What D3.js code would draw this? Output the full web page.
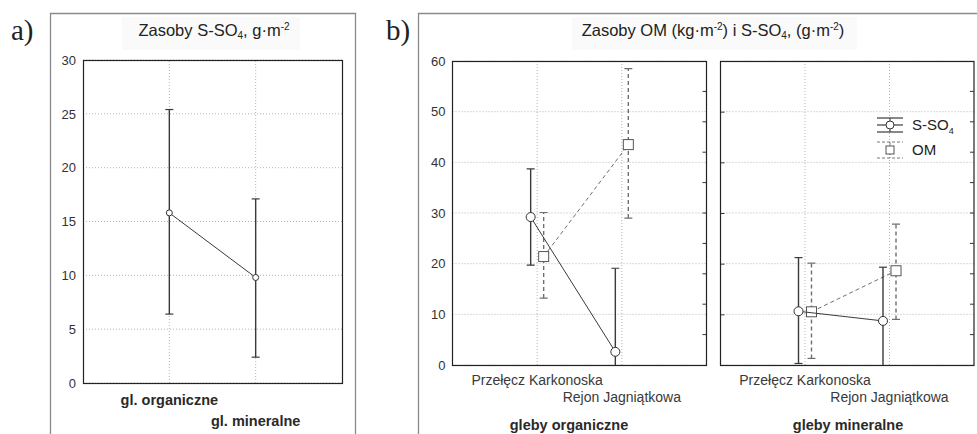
<!DOCTYPE html>
<html>
<head>
<meta charset="utf-8">
<script src="https://cdn.jsdelivr.net/npm/d3@7"></script>
<style>
  body { margin: 0; background: #fff; }
  svg { display: block; font-family: Arial, "Liberation Sans", sans-serif; }
</style>
</head>
<body>
<svg id="chart" width="977" height="434"></svg>
<script>
// panel a: S-SO4 stock by soil type (mean and CI)
const aCategories = ['gl. organiczne', 'gl. mineralne'];
const aMean = [15.8, 9.8];
const aLow = [6.4, 2.4];
const aHigh = [25.4, 17.1];
const aTicks = [0, 5, 10, 15, 20, 25, 30];

// panel b: two soil groups, two sites, two series
const bGroups = ['gleby organiczne', 'gleby mineralne'];
const bSites = ['Przełęcz Karkonoska', 'Rejon Jagniątkowa'];
const bSeries = ['S-SO4', 'OM'];
const sso4Mean = [[29.2, 2.6], [10.6, 8.7]];
const sso4Low = [[19.7, -13.9], [0.3, -1.9]];
const sso4High = [[38.7, 19.1], [21.2, 19.3]];
const omMean = [[21.4, 43.5], [10.5, 18.6]];
const omLow = [[13.2, 29.0], [1.3, 9.0]];
const omHigh = [[30.1, 58.5], [20.1, 27.8]];
const bTicks = [0, 10, 20, 30, 40, 50, 60];

const svg = d3.select('#chart');
const font = 'Arial, "Liberation Sans", sans-serif';

// outer frames
svg.append('path')
  .attr('d', 'M50.5,440 V13.5 H355.5 V440')
  .attr('fill', 'none').attr('stroke', '#8a8a8a').attr('stroke-width', 1.3);
svg.append('path')
  .attr('d', 'M418.5,440 V13.5 H980')
  .attr('fill', 'none').attr('stroke', '#8a8a8a').attr('stroke-width', 1.3);

// panel letters
svg.append('text').attr('x', 11).attr('y', 40).text('a)')
  .attr('font-family', '"Liberation Serif", "Times New Roman", serif').attr('font-size', 29).attr('fill', '#222');
svg.append('text').attr('x', 386).attr('y', 40).text('b)')
  .attr('font-family', '"Liberation Serif", "Times New Roman", serif').attr('font-size', 29).attr('fill', '#222');

// titles with faint background
function title(cx, parts) {
  const t = svg.append('text').attr('x', cx).attr('y', 36)
    .attr('text-anchor', 'middle').attr('font-size', 16.5).attr('fill', '#222');
  parts.forEach(p => {
    const s = t.append('tspan').text(p.t);
    if (p.sub) s.attr('font-size', 10).attr('dy', 3);
    if (p.sup) s.attr('font-size', 10).attr('dy', -6);
    if (p.back) s.attr('dy', p.back);
  });
  return t;
}
svg.append('rect').attr('x', 122).attr('y', 17).attr('width', 178).attr('height', 33).attr('fill', '#fafafa');
svg.append('rect').attr('x', 572).attr('y', 17).attr('width', 285).attr('height', 33).attr('fill', '#fafafa');
title(214, [
  { t: 'Zasoby S-SO' }, { t: '4', sub: true }, { t: ', g·m', back: -3 }, { t: '-2', sup: true }
]);
title(713, [
  { t: 'Zasoby OM (kg·m' }, { t: '-2', sup: true }, { t: ') i S-SO', back: 6 }, { t: '4', sub: true },
  { t: ', (g·m', back: -3 }, { t: '-2', sup: true }, { t: ')', back: 6 }
]);

// grid lines of one plot
function grid(g, y, r0, r1, yTicks, xs) {
  g.selectAll('.hg').data(yTicks).join('line')
    .attr('x1', r0).attr('x2', r1)
    .attr('y1', d => y(d)).attr('y2', d => y(d))
    .attr('stroke', '#b5b5b5').attr('stroke-dasharray', '1,2');
  g.selectAll('.vg').data(xs).join('line')
    .attr('x1', d => d).attr('x2', d => d)
    .attr('y1', y.range()[0]).attr('y2', y.range()[1])
    .attr('stroke', '#b5b5b5').attr('stroke-dasharray', '1,2');
}

function errorBars(g, xs, meanY, lowY, highY, dashed, r, shape, clipId) {
  const col = dashed ? '#6e6e6e' : '#3a3a3a';
  const dash = dashed ? '4,3' : null;
  const gg = g.append('g').attr('clip-path', 'url(#' + clipId + ')');
  gg.append('path')
    .attr('d', d3.line()(xs.map((x, i) => [x, meanY[i]])))
    .attr('fill', 'none').attr('stroke', col).attr('stroke-width', 1)
    .attr('stroke-dasharray', dash);
  xs.forEach((x, i) => {
    gg.append('line').attr('x1', x).attr('x2', x).attr('y1', lowY[i]).attr('y2', highY[i])
      .attr('stroke', col).attr('stroke-width', 1.4).attr('stroke-dasharray', dash);
    [lowY[i], highY[i]].forEach(v => {
      gg.append('line').attr('x1', x - 4).attr('x2', x + 4).attr('y1', v).attr('y2', v)
        .attr('stroke', col).attr('stroke-width', 1.2);
    });
    if (shape === 'circle') {
      gg.append('circle').attr('cx', x).attr('cy', meanY[i]).attr('r', r)
        .attr('fill', '#fff').attr('stroke', '#333').attr('stroke-width', 1);
    } else {
      gg.append('rect').attr('x', x - r).attr('y', meanY[i] - r).attr('width', 2 * r).attr('height', 2 * r)
        .attr('fill', '#fff').attr('stroke', '#555').attr('stroke-width', 1);
    }
  });
}

const defs = svg.append('defs');

// ---------- panel a ----------
(function () {
  const L = 83, R = 342, T = 60, B = 383;
  const x = d3.scalePoint().domain(aCategories).range([L, R]).padding(1);
  const y = d3.scaleLinear().domain([0, 30]).range([B, T]);
  defs.append('clipPath').attr('id', 'clipA').append('rect')
    .attr('x', L).attr('y', T - 1).attr('width', R - L).attr('height', B - T + 1);
  const g = svg.append('g');
  const xs = aCategories.map(c => x(c));
  grid(g, y, L, R, aTicks, xs);
  g.append('rect').attr('x', L + 0.5).attr('y', T + 0.5).attr('width', R - L).attr('height', B - T)
    .attr('fill', 'none').attr('stroke', '#222').attr('stroke-width', 1.2);
  g.append('g').attr('transform', 'translate(' + L + ',0)')
    .call(d3.axisLeft(y).tickValues(aTicks).tickSize(0).tickPadding(7))
    .call(s => s.select('.domain').remove())
    .call(s => s.selectAll('text').attr('font-size', 13).attr('fill', '#333').attr('font-family', font));
  errorBars(g, xs, aMean.map(y), aLow.map(y), aHigh.map(y), false, 3, 'circle', 'clipA');
  aCategories.forEach((c, i) => {
    g.append('text').attr('x', x(c)).attr('y', 405 + i * 21).attr('text-anchor', 'middle')
      .attr('font-size', 14.5).attr('font-weight', 'bold').attr('fill', '#2a2a2a').text(c);
  });
})();

// ---------- panel b ----------
const bY = d3.scaleLinear().domain([0, 60]).range([365, 61]);
const bPlots = [{ L: 452.5, R: 706.5 }, { L: 720.5, R: 974 }];
const bGroupLabelX = [569, 848];
bPlots.forEach((p, gi) => {
  const x = d3.scalePoint().domain(bSites).range([p.L, p.R]).padding(1);
  const off = d3.scaleBand().domain(bSeries).range([-13, 13]);
  const clipId = 'clipB' + gi;
  defs.append('clipPath').attr('id', clipId).append('rect')
    .attr('x', p.L).attr('y', 60).attr('width', p.R - p.L).attr('height', 305);
  const g = svg.append('g');
  grid(g, bY, p.L, p.R, bTicks, bSites.map(s => x(s)));
  g.append('rect').attr('x', p.L).attr('y', 61.5).attr('width', p.R - p.L).attr('height', 304)
    .attr('fill', 'none').attr('stroke', '#222').attr('stroke-width', 1.2);
  if (gi === 0) {
    g.append('g').attr('transform', 'translate(' + p.L + ',0)')
      .call(d3.axisLeft(bY).tickValues(bTicks).tickSize(0).tickPadding(7))
      .call(s => s.select('.domain').remove())
      .call(s => s.selectAll('text').attr('font-size', 13).attr('fill', '#333').attr('font-family', font));
  } else {
    g.append('g').attr('transform', 'translate(' + p.L + ',0)')
      .call(d3.axisRight(bY).tickValues(bTicks.slice(1, -1)).tickSize(4).tickFormat(''))
      .call(s => s.select('.domain').remove())
      .call(s => s.selectAll('line').attr('stroke', '#333'));
  }
  // inner ticks on the right edge (10 divisions)
  const rScale = d3.scaleLinear().domain([0, 10]).range(bY.range());
  g.selectAll('.rt').data(d3.range(1, 10)).join('line')
    .attr('x1', p.R - 4).attr('x2', p.R).attr('y1', d => rScale(d)).attr('y2', d => rScale(d))
    .attr('stroke', '#333');

  const sx = bSites.map(s => x(s) + off('S-SO4') + off.bandwidth() / 2);
  const ox = bSites.map(s => x(s) + off('OM') + off.bandwidth() / 2);
  errorBars(g, ox, omMean[gi].map(bY), omLow[gi].map(bY), omHigh[gi].map(bY), true, 5, 'square', clipId);
  errorBars(g, sx, sso4Mean[gi].map(bY), sso4Low[gi].map(bY), sso4High[gi].map(bY), false, 4.5, 'circle', clipId);

  bSites.forEach((s, i) => {
    g.append('text').attr('x', x(s)).attr('y', 385 + i * 17).attr('text-anchor', 'middle')
      .attr('font-size', 14).attr('fill', '#3a3a3a').text(s);
  });
  g.append('text').attr('x', bGroupLabelX[gi]).attr('y', 430).attr('text-anchor', 'middle')
    .attr('font-size', 14.5).attr('font-weight', 'bold').attr('fill', '#2a2a2a').text(bGroups[gi]);
});

// legend
(function () {
  const lx = 877, lw = 26, rows = [125, 150];
  const lg = svg.append('g');
  // S-SO4
  const y0 = rows[0];
  [y0 - 7, y0, y0 + 7].forEach(yy => lg.append('line').attr('x1', lx).attr('x2', lx + lw)
    .attr('y1', yy).attr('y2', yy).attr('stroke', '#3a3a3a').attr('stroke-width', 1.2));
  lg.append('line').attr('x1', lx + lw / 2).attr('x2', lx + lw / 2).attr('y1', y0 - 7).attr('y2', y0 + 7)
    .attr('stroke', '#3a3a3a');
  lg.append('circle').attr('cx', lx + lw / 2).attr('cy', y0).attr('r', 4)
    .attr('fill', '#fff').attr('stroke', '#333');
  const t1 = lg.append('text').attr('x', 912).attr('y', y0 + 5).attr('font-size', 15).attr('fill', '#222');
  t1.append('tspan').text('S-SO');
  t1.append('tspan').text('4').attr('font-size', 9).attr('dy', 4);
  // OM
  const y1 = rows[1];
  [y1 - 8, y1 + 8].forEach(yy => lg.append('line').attr('x1', lx).attr('x2', lx + lw)
    .attr('y1', yy).attr('y2', yy).attr('stroke', '#777').attr('stroke-dasharray', '3,2'));
  lg.append('line').attr('x1', lx + lw / 2).attr('x2', lx + lw / 2).attr('y1', y1 - 8).attr('y2', y1 + 8)
    .attr('stroke', '#777').attr('stroke-dasharray', '3,2');
  lg.append('rect').attr('x', lx + lw / 2 - 4).attr('y', y1 - 4).attr('width', 8).attr('height', 8)
    .attr('fill', '#fff').attr('stroke', '#555');
  lg.append('text').attr('x', 912).attr('y', y1 + 5).attr('font-size', 15).attr('fill', '#222').text('OM');
})();
</script>
</body>
</html>
